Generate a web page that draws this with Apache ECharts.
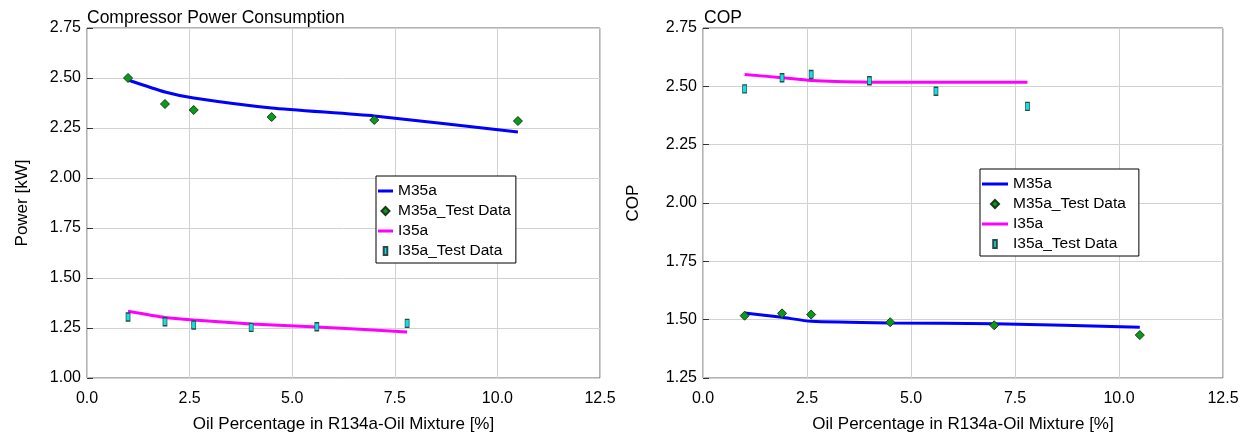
<!DOCTYPE html>
<html>
<head>
    <meta charset="utf-8">
    <title>R134a oil mixture</title>
    <script src="https://cdn.jsdelivr.net/npm/echarts@6/dist/echarts.min.js"></script>
    <style>
        * { margin: 0; padding: 0; box-sizing: border-box; }
        html, body { width: 100%; height: 100%; background: #fff; }
        #main { width: 1249px; height: 438px; }
    </style>
</head>
<body>
<div id="main"></div>
<script>
    // oil percentage [%] of each run
    const xM35a = [1.0, 1.9, 2.6, 4.5, 7.0, 10.5];
    const xI35a = [1.0, 1.9, 2.6, 4.0, 5.6, 7.8];

    // compressor power [kW]
    const powerM35a = [2.49, 2.43, 2.40, 2.35, 2.31, 2.23];
    const powerM35aTest = [2.50, 2.37, 2.34, 2.305, 2.29, 2.285];
    const powerI35a = [1.334, 1.303, 1.29, 1.27, 1.255, 1.23];
    const powerI35aTest = [1.305, 1.281, 1.265, 1.253, 1.256, 1.273];

    // COP
    const copM35a = [1.529, 1.51, 1.493, 1.486, 1.483, 1.468];
    const copM35aTest = [1.517, 1.527, 1.522, 1.489, 1.476, 1.434];
    const copI35a = [2.551, 2.537, 2.525, 2.518, 2.517, 2.517];
    const copI35aTest = [2.489, 2.537, 2.551, 2.524, 2.479, 2.414];

    const legendNames = ['M35a', 'M35a_Test Data', 'I35a', 'I35a_Test Data'];

    const font = "'Liberation Sans', Arial, sans-serif";
    const rectIcon = 'path://M0,0 L4,0 L4,9 L0,9 Z';
    const diamondIcon = 'path://M4,0 L8,4 L4,8 L0,4 Z';

    const pairs = (xs, ys) => xs.map((x, i) => [x, ys[i]]);

    const xAxisBase = (gridIndex) => ({
        gridIndex,
        type: 'value',
        min: 0,
        max: 12.5,
        interval: 2.5,
        name: 'Oil Percentage in R134a-Oil Mixture [%]',
        nameLocation: 'middle',
        nameGap: 38,
        nameTextStyle: { fontFamily: font, fontSize: 17, color: '#000' },
        axisLine: { show: false },
        axisTick: { show: false },
        axisLabel: {
            fontFamily: font, fontSize: 16, color: '#000', margin: 13,
            formatter: v => v.toFixed(1)
        },
        splitLine: { show: true, lineStyle: { color: '#d2d2d2', width: 1 } }
    });

    const yAxisBase = (gridIndex, min, name, gap) => ({
        gridIndex,
        type: 'value',
        min,
        max: 2.75,
        interval: 0.25,
        name,
        nameLocation: 'middle',
        nameGap: gap,
        nameTextStyle: { fontFamily: font, fontSize: 17, color: '#000' },
        axisLine: { show: false },
        axisTick: { show: true, inside: true, length: 6, lineStyle: { color: '#333' } },
        axisLabel: {
            fontFamily: font, fontSize: 16, color: '#000', margin: 6,
            padding: [7, 0, 0, 0],
            formatter: v => v.toFixed(2)
        },
        splitLine: { show: true, lineStyle: { color: '#d2d2d2', width: 1 } }
    });

    const lineSeries = (name, idx, data, color) => ({
        name, type: 'line', xAxisIndex: idx, yAxisIndex: idx,
        data, showSymbol: false, symbol: 'none', smooth: 0.2,
        lineStyle: { color, width: 3 }, itemStyle: { color }, z: 2
    });

    const diamondSeries = (name, idx, data) => ({
        name, type: 'scatter', xAxisIndex: idx, yAxisIndex: idx,
        data, symbol: 'diamond', symbolSize: 9,
        itemStyle: { color: '#0a9a1a', borderColor: '#1a3a1a', borderWidth: 1, opacity: 1 }, z: 3
    });

    const rectSeries = (name, idx, data) => ({
        name, type: 'scatter', xAxisIndex: idx, yAxisIndex: idx,
        data, symbol: 'rect', symbolSize: [4, 8],
        itemStyle: { color: '#10e0e0', borderColor: '#2a4a4a', borderWidth: 1, opacity: 1 }, z: 3
    });

    const legendBase = (left, top, itemWidth, padRight) => ({
        orient: 'vertical',
        left, top,
        itemWidth, itemHeight: 8,
        itemGap: 4,
        padding: [7, padRight, 4, 2],
        borderColor: '#000',
        borderWidth: 1,
        backgroundColor: '#fff',
        selectedMode: false,
        textStyle: { fontFamily: font, fontSize: 15.5, color: '#000', lineHeight: 16 },
        data: [
            { name: legendNames[0], icon: 'path://M0,0 L' + itemWidth + ',0 L' + itemWidth + ',3 L0,3 Z', itemStyle: { color: '#0000ff' } },
            { name: legendNames[1], icon: diamondIcon },
            { name: legendNames[2], icon: 'path://M0,0 L' + itemWidth + ',0 L' + itemWidth + ',3 L0,3 Z', itemStyle: { color: '#ff00ff' } },
            { name: legendNames[3], icon: rectIcon }
        ]
    });

    const chart = echarts.init(document.getElementById('main'), null, { renderer: 'canvas' });

    chart.setOption({
        animation: false,
        backgroundColor: '#fff',
        title: [
            { text: 'Compressor Power Consumption', left: 87, top: 9,
              textStyle: { fontFamily: font, fontSize: 17.5, fontWeight: 'normal', color: '#000' }, padding: 0 },
            { text: 'COP', left: 704, top: 9,
              textStyle: { fontFamily: font, fontSize: 17.5, fontWeight: 'normal', color: '#000' }, padding: 0 }
        ],
        grid: [
            { left: 87, right: 649, top: 28, bottom: 54, show: true, borderColor: '#666', borderWidth: 1, backgroundColor: 'transparent' },
            { left: 703, right: 26, top: 28, bottom: 50, show: true, borderColor: '#666', borderWidth: 1, backgroundColor: 'transparent' }
        ],
        xAxis: [xAxisBase(0), xAxisBase(1)],
        yAxis: [
            yAxisBase(0, 1.0, 'Power [kW]', 56),
            yAxisBase(1, 1.25, 'COP', 61)
        ],
        legend: [
            legendBase(376, 176, 15, 5),
            legendBase(980, 169, 26, 13)
        ],
        series: [
            lineSeries('M35a', 0, pairs(xM35a, powerM35a), '#0000ff'),
            lineSeries('I35a', 0, pairs(xI35a, powerI35a), '#ff00ff'),
            diamondSeries('M35a_Test Data', 0, pairs(xM35a, powerM35aTest)),
            rectSeries('I35a_Test Data', 0, pairs(xI35a, powerI35aTest)),
            lineSeries('M35a', 1, pairs(xM35a, copM35a), '#0000ff'),
            lineSeries('I35a', 1, pairs(xI35a, copI35a), '#ff00ff'),
            diamondSeries('M35a_Test Data', 1, pairs(xM35a, copM35aTest)),
            rectSeries('I35a_Test Data', 1, pairs(xI35a, copI35aTest))
        ]
    });
</script>
</body>
</html>
